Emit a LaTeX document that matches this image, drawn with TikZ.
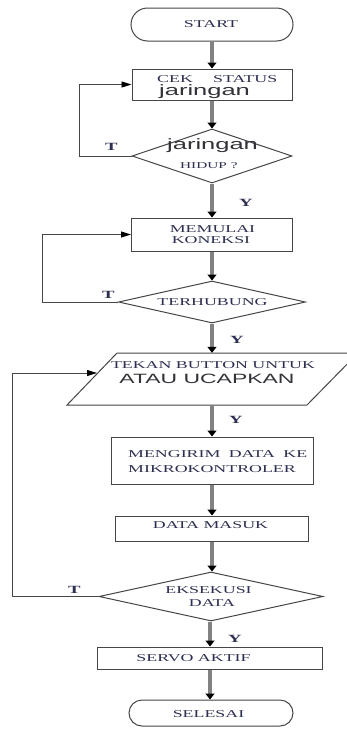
\documentclass[tikz,border=0pt]{standalone}
\usepackage{fontspec}
\setmainfont{Liberation Serif}[FakeStretch=1.7]
\setsansfont{Liberation Sans}[FakeStretch=1.7]
\usetikzlibrary{arrows.meta,shapes.geometric,shapes.misc}
\definecolor{ink}{RGB}{45,47,80}
\definecolor{inksans}{RGB}{50,50,56}
\definecolor{linec}{RGB}{70,70,70}
\definecolor{shaft}{RGB}{130,130,130}
\begin{document}
\begin{tikzpicture}[x=1pt,y=-1pt,
  boxn/.style={rectangle,draw=linec,line width=1pt,inner sep=0pt},
  term/.style={rounded rectangle,draw=linec,line width=1pt,inner sep=0pt},
  dia/.style={diamond,draw=linec,line width=1pt,inner sep=0pt},
  serif/.style={font=\fontsize{10.5}{12}\selectfont,text=ink,inner sep=0pt,anchor=base},
  serifw/.style={serif,anchor=base west},
  sanslbl/.style={font=\sffamily\fontsize{15}{17}\selectfont,text=inksans,inner sep=0pt,anchor=base west},
  yt/.style={font=\bfseries\fontsize{11}{12}\selectfont,text=ink,inner sep=0pt,anchor=base west},
  flow/.style={draw=shaft,line width=3.2pt,-{Triangle[length=6pt,width=9pt,color=black]}},
  back/.style={draw=linec,line width=0.9pt,-{Triangle[length=10pt,width=6pt,color=black]}}]
\useasboundingbox (0,0) rectangle (347,731);
\clip (0,0) rectangle (347,731);
\fill[white] (0,0) rectangle (347,731);

% shapes
\node[term,minimum width=162pt,minimum height=33pt] (start) at (212,24.5) {};
\node[boxn,minimum width=160pt,minimum height=31pt] (cek) at (212,84.5) {};
\node[dia,minimum width=160pt,minimum height=54pt] (d1) at (212,156) {};
\node[boxn,minimum width=161pt,minimum height=33pt] (mem) at (212,234.5) {};
\node[dia,minimum width=187pt,minimum height=42pt] (d2) at (212,302) {};
\node[rectangle,draw=none,minimum width=190pt,minimum height=52pt,inner sep=0pt] (par) at (212,379) {};
\draw[linec,line width=1pt] (67,405) -- (117,353) -- (358,353) -- (307,405) -- cycle;
\coordinate (pin) at (97,373);
\node[boxn,minimum width=202pt,minimum height=47pt] (mgr) at (212,460.5) {};
\node[boxn,minimum width=193pt,minimum height=25pt] (dm) at (212,528.5) {};
\node[dia,minimum width=224pt,minimum height=49pt] (d3) at (211,596.5) {};
\node[boxn,minimum width=225pt,minimum height=22pt] (servo) at (210,658) {};
\node[term,minimum width=164pt,minimum height=26pt] (fin) at (211,713) {};

% texts
\node[serif] (tstart) at (211,27) {START};
\node[serifw] (tcek1) at (157,82) {CEK};
\node[serifw] (tcek2) at (213,82) {STATUS};
\node[sanslbl] (tcek3) at (159,95) {jaringan};
\node[sanslbl] (td1a) at (167,149) {jaringan};
\node[serifw,font=\fontsize{9}{10}\selectfont] (td1b) at (180,168) {HIDUP ?};
\node[serif] (tmem1) at (212.5,232) {MEMULAI};
\node[serif] (tmem2) at (211,243) {KONEKSI};
\node[serif] (td2) at (212.5,305) {TERHUBUNG};
\node[serif] (tpar1) at (213,368) {TEKAN BUTTON UNTUK};
\node[sanslbl,anchor=base,font=\sffamily\fontsize{13.5}{15}\selectfont] (tpar2) at (207,383) {ATAU UCAPKAN};
\node[serifw] (tmgr1) at (128,457) {\makebox[179pt][s]{MENGIRIM DATA KE}};
\node[serifw] (tmgr2) at (128,472) {MIKROKONTROLER};
\node[serif] (tdm) at (210.5,528) {DATA MASUK};
\node[serif] (td3a) at (208.5,593) {EKSEKUSI};
\node[serif] (td3b) at (212,606) {DATA};
\node[serif] (tservo) at (193.5,661) {SERVO AKTIF};
\node[serif] (tfin) at (208.5,717) {SELESAI};

% T / Y labels
\node[yt] (T1) at (105,150) {T};
\node[yt] (T2) at (102,298) {T};
\node[yt] (T3) at (68,593) {T};
\node[yt] (Y1) at (239,206) {Y};
\node[yt] (Y2) at (230,343) {Y};
\node[yt] (Y3) at (229,423) {Y};
\node[yt] (Y4) at (228,642) {Y};

% flow arrows
\draw[flow] (start.south) -- (cek.north);
\draw[flow] (cek.south) -- (d1.north);
\draw[flow] (d1.south) -- (mem.north);
\draw[flow] (mem.south) -- (d2.north);
\draw[flow] (d2.south) -- (par.north);
\draw[flow] (par.south) -- (mgr.north);
\draw[flow] (mgr.south) -- (dm.north);
\draw[flow] (dm.south) -- (d3.north -| dm.south);
\draw[flow] (d3.south -| servo.north) -- (servo.north);
\draw[flow] (servo.south) -- (fin.north -| servo.south);

% back loops
\draw[back] (d1.west) -- ++(-52,0) |- (cek.west);
\draw[back] (d2.west) -- ++(-76,0) |- (mem.west);
\draw[back] (d3.west) -- ++(-86,0) |- (pin);
\end{tikzpicture}
\end{document}
